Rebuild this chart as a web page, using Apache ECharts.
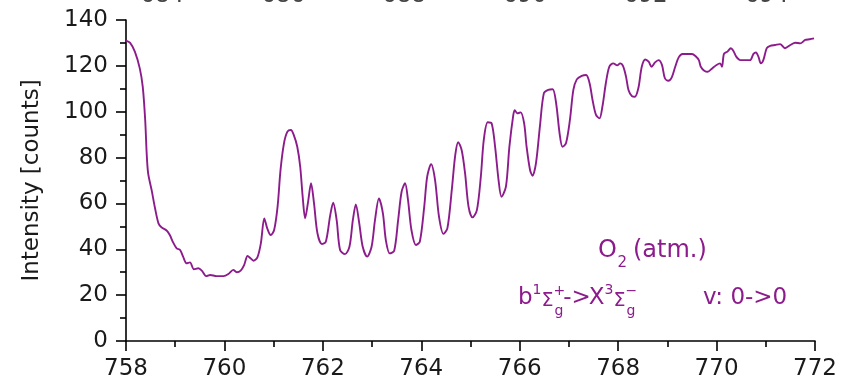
<!DOCTYPE html>
<html>
<head>
<meta charset="utf-8">
<script src="https://cdn.jsdelivr.net/npm/echarts@6/dist/echarts.min.js"></script>
<style>
html,body{margin:0;padding:0;background:#fff;}
#chart{width:846px;height:385px;}
</style>
</head>
<body>
<div id="chart"></div>
<script>
// Wavelength (nm)
var wavelength = [
758.00,758.08,758.18,758.28,758.34,758.39,758.42,758.45,758.52,758.59,758.66,758.72,758.83,758.89,758.96,
759.03,759.10,759.16,759.23,759.30,759.38,759.47,759.54,759.63,759.71,759.84,759.98,
760.08,760.18,760.25,760.33,760.40,760.47,760.53,760.59,760.67,760.74,760.81,760.87,760.94,
761.01,761.08,761.14,761.21,761.28,761.35,761.41,761.48,761.54,761.59,761.64,761.70,761.76,761.82,761.89,761.98,
762.06,762.15,762.21,762.28,762.35,762.45,762.54,762.61,762.67,762.74,762.81,762.90,762.99,
763.06,763.14,763.22,763.28,763.36,763.45,763.53,763.60,763.67,763.73,763.80,763.89,763.97,
764.06,764.12,764.20,764.28,764.36,764.45,764.53,764.62,764.69,764.75,764.82,764.89,764.96,
765.04,765.13,765.21,765.27,765.35,765.43,765.50,765.57,765.63,765.72,765.79,765.87,765.90,765.95,
766.02,766.09,766.14,766.21,766.26,766.33,766.41,766.49,766.58,766.67,766.74,766.81,766.87,766.94,
767.02,767.09,767.16,767.26,767.35,767.42,767.48,767.55,767.62,767.68,767.75,767.82,767.90,767.98,
768.04,768.10,768.16,768.21,768.28,768.34,768.41,768.48,768.55,768.62,768.68,768.75,768.82,768.89,768.95,
769.02,769.09,769.16,769.23,769.31,769.41,769.50,769.57,769.64,769.68,769.75,769.82,769.91,
770.00,770.07,770.11,770.15,770.22,770.29,770.34,770.40,770.48,770.58,770.68,770.75,770.80,770.85,770.90,770.95,
771.02,771.09,771.19,771.29,771.39,771.50,771.60,771.70,771.80,771.89,771.98
];
// Intensity (counts)
var intensity = [
131.0,130.1,126.2,118.9,110.9,96.4,81.9,73.1,65.9,57.9,51.3,49.6,48.1,46.2,42.9,
40.4,39.7,36.8,33.9,34.3,31.3,31.7,30.7,28.3,28.8,28.3,28.3,
29.2,31.0,30.0,30.7,33.1,37.1,36.1,35.0,36.5,42.6,53.5,49.1,46.2,
48.4,58.6,74.6,86.2,91.3,92.0,89.8,84.7,76.0,62.9,53.5,60.7,68.8,60.1,47.0,42.3,
43.3,54.9,60.3,52.8,39.7,37.9,41.1,52.8,59.6,51.3,41.1,36.8,41.1,
52.8,62.2,55.7,44.0,38.2,39.4,52.8,65.1,68.8,61.5,48.4,41.9,43.3,
58.6,71.7,77.1,70.2,54.2,46.7,49.1,65.9,81.1,86.7,83.3,73.1,58.6,
53.9,57.1,71.7,87.7,95.4,94.9,84.7,70.2,62.9,67.3,84.7,98.6,100.7,99.3,
99.7,94.9,84.7,74.6,72.1,77.5,93.5,108.0,109.5,109.8,103.7,90.6,84.7,86.2,
96.4,109.5,114.1,115.6,116.0,112.4,105.1,98.6,97.1,102.2,112.4,119.6,121.1,120.2,
121.1,119.9,115.3,109.5,106.8,106.5,110.2,119.6,122.8,121.8,119.6,121.5,122.5,120.4,114.6,
113.5,115.0,119.6,123.7,125.2,125.2,125.2,124.3,122.5,119.6,117.9,117.4,118.9,
120.4,121.1,119.6,125.2,126.2,127.7,126.6,124.0,122.5,122.5,122.5,125.2,125.8,124.0,121.1,122.5,
127.7,128.7,129.1,129.5,127.7,129.1,130.1,129.8,131.3,131.6,132.0
];
// Tick labels of the (cut-off) axis above the panel
var topTickLabels = ['684','686','688','690','692','694'];
var yAxisTitle = 'Intensity [counts]';

var FONT = '"DejaVu Sans", "Liberation Sans", Arial, sans-serif';
var TXT = '#1a1a1a';
var PURPLE = '#8c1c8c';

var seriesData = wavelength.map(function (w, i) { return [w, intensity[i]]; });

// measure text widths to chain annotation pieces
var mctx = document.createElement('canvas').getContext('2d');
function tw(text, size) { mctx.font = size + 'px ' + FONT; return mctx.measureText(text).width; }

function t(text, x, y, size) {
  return {
    type: 'text', x: x, y: y, silent: true,
    style: {
      text: text, fill: PURPLE,
      font: size + 'px ' + FONT,
      textAlign: 'left', textVerticalAlign: 'middle', verticalAlign: 'middle'
    }
  };
}

// annotation line 1: O2 (atm.)
var g = [];
var L1 = 24, S1 = 15, y1 = 251;
var x = 598;
g.push(t('O', x, y1, L1)); x += tw('O', L1) + 0.5;
g.push(t('2', x, y1 + 12, S1)); x += tw('2', S1) + 6;
g.push(t('(atm.)', x, y1, L1));

// annotation line 2: b1Sg+ -> X3Sg-   v: 0->0
var L2 = 23, SUP = 14, SIG = 19, y2 = 298;
x = 518;
g.push(t('b', x, y2, L2)); x += tw('b', L2);
g.push(t('1', x, y2 - 8, SUP)); x += tw('1', SUP);
g.push(t('\u03A3', x, y2 + 3, SIG)); x += tw('\u03A3', SIG);
g.push(t('+', x, y2 - 7, SUP));
g.push(t('g', x + 1, y2 + 13, SUP)); x += tw('+', SUP) - 2;
g.push(t('->', x, y2, L2)); x += tw('->', L2) - 2;
g.push(t('X', x, y2, L2)); x += tw('X', L2);
g.push(t('3', x, y2 - 8, SUP)); x += tw('3', SUP);
g.push(t('\u03A3', x, y2 + 3, SIG)); x += tw('\u03A3', SIG);
g.push(t('\u2212', x, y2 - 7, SUP));
g.push(t('g', x + 1, y2 + 13, SUP));
g.push(t('v: 0->0', 703, y2, L2));

var chart = echarts.init(document.getElementById('chart'), null, {renderer: 'canvas'});
chart.setOption({
  animation: false,
  backgroundColor: '#ffffff',
  grid: {left: 126, right: 31, top: 20, bottom: 44, containLabel: false, outerBoundsMode: 'none'},
  xAxis: [{
    type: 'value', min: 758, max: 772, interval: 2, position: 'bottom',
    axisLine: {show: true, onZero: false, lineStyle: {color: '#000', width: 1.6}},
    axisTick: {show: true, inside: false, length: 10, lineStyle: {color: '#000', width: 1.6}},
    minorTick: {show: true, splitNumber: 2, length: 6, lineStyle: {color: '#000', width: 1.6}},
    splitLine: {show: false},
    axisLabel: {fontSize: 23, fontFamily: FONT, color: TXT, margin: 17}
  }, {
    type: 'value', min: 683.4, max: 694.8, interval: 0.2, position: 'top',
    axisLine: {show: false}, axisTick: {show: false}, splitLine: {show: false},
    axisLabel: {
      fontSize: 23, fontFamily: FONT, color: '#444', margin: 12,
      formatter: function (v) {
        var r = String(Math.round(v));
        return (Math.abs(v - Math.round(v)) < 1e-6 && topTickLabels.indexOf(r) >= 0) ? r : '';
      }
    }
  }],
  yAxis: {
    type: 'value', min: 0, max: 140, interval: 20,
    name: yAxisTitle, nameLocation: 'middle', nameGap: 82,
    nameTextStyle: {fontSize: 23, fontFamily: FONT, color: TXT},
    axisLine: {show: true, lineStyle: {color: '#000', width: 1.6}},
    axisTick: {show: true, inside: false, length: 10, lineStyle: {color: '#000', width: 1.6}},
    minorTick: {show: true, splitNumber: 2, length: 6, lineStyle: {color: '#000', width: 1.6}},
    splitLine: {show: false},
    axisLabel: {fontSize: 23, fontFamily: FONT, color: TXT, margin: 18}
  },
  series: [{
    type: 'line', xAxisIndex: 0, data: seriesData,
    showSymbol: false, smooth: 0.3, clip: true,
    lineStyle: {color: PURPLE, width: 1.9}
  }],
  graphic: g
});
</script>
</body>
</html>
